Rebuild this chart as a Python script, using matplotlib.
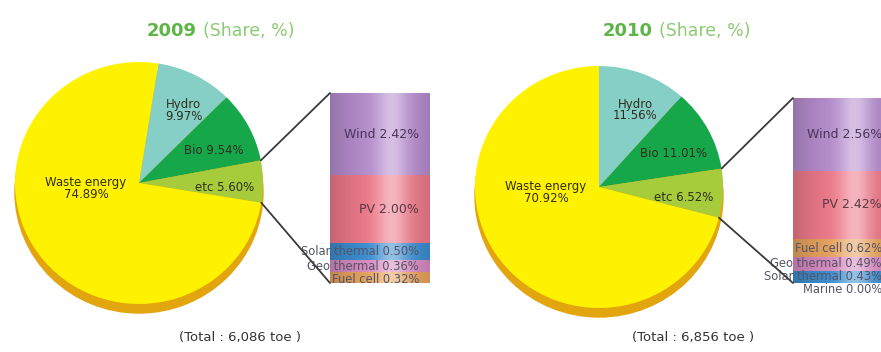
import numpy as np
import matplotlib.pyplot as plt
from matplotlib.patches import Ellipse, ConnectionPatch

W, H = 881, 352

YEARS = ["2009", "2010"]
TOTALS = ["6,086", "6,856"]

PIE_LABELS = ["Hydro", "Bio", "etc", "Waste energy"]
PIE_2009 = [9.97, 9.54, 5.60, 74.89]
PIE_2010 = [11.56, 11.01, 6.52, 70.92]

ETC_LABELS_2009 = ["Wind", "PV", "Solar thermal", "Geo thermal", "Fuel cell"]
ETC_2009 = [2.42, 2.00, 0.50, 0.36, 0.32]
ETC_LABELS_2010 = ["Wind", "PV", "Fuel cell", "Geo thermal", "Solar thermal", "Marine"]
ETC_2010 = [2.56, 2.42, 0.62, 0.49, 0.43, 0.00]

PIE_COLORS = {"Hydro": "#86CFC7", "Bio": "#16A74B", "etc": "#A6CC3C",
              "Waste energy": "#FFF200"}
ETC_COLORS = {"Wind": "#B68DCE", "PV": "#EE7A8B", "Solar thermal": "#3C8ED2",
              "Geo thermal": "#D98BC3", "Fuel cell": "#E8A35E", "Marine": "#7FB3D5"}
SHADOW = "#E2A50E"

# pixel layout of each panel
PANELS = [
    dict(values=PIE_2009, etc=ETC_2009, etc_labels=ETC_LABELS_2009,
         center=(139, 183), start=81, bar=(330, 93, 100, 190),
         title_x=147, foot_x=240),
    dict(values=PIE_2010, etc=ETC_2010, etc_labels=ETC_LABELS_2010,
         center=(599, 187), start=90, bar=(793, 98, 100, 185),
         title_x=603, foot_x=693),
]
RX, RY = 124, 121
SHADOW_DY = 9


def px_rect(x, y, w, h):
    return [x / W, 1 - (y + h) / H, w / W, h / H]


fig = plt.figure(figsize=(W / 100, H / 100), dpi=100)
canvas = fig.add_axes([0, 0, 1, 1])
canvas.set_xlim(0, W)
canvas.set_ylim(H, 0)
canvas.axis("off")

for i, p in enumerate(PANELS):
    cx, cy = p["center"]
    pad = 1.12
    pie_ax = fig.add_axes(px_rect(cx - RX * pad, cy - RY * pad,
                                  2 * RX * pad, 2 * RY * pad))
    pie_ax.add_patch(Ellipse((0, -SHADOW_DY / RY), 2, 2, color=SHADOW, zorder=0))
    wedges, _ = pie_ax.pie(p["values"], colors=[PIE_COLORS[k] for k in PIE_LABELS],
                           startangle=p["start"], counterclock=False,
                           wedgeprops=dict(linewidth=0))
    pie_ax.set_aspect("auto")
    pie_ax.set_xlim(-pad, pad)
    pie_ax.set_ylim(-pad, pad)
    pie_ax.axis("off")

    # slice labels
    label_pos = {"Hydro": 0.70, "Bio": 0.66, "etc": 0.69}
    for w, name, v in zip(wedges, PIE_LABELS, p["values"]):
        if name == "Waste energy":
            ang, r = np.deg2rad(186), 0.43
            txt = f"{name}\n{v:.2f}%"
        else:
            ang = np.deg2rad((w.theta1 + w.theta2) / 2 - 4)
            r = label_pos[name]
            txt = f"{name}\n{v:.2f}%" if name == "Hydro" else f"{name} {v:.2f}%"
        pie_ax.text(r * np.cos(ang), r * np.sin(ang), txt, ha="center", va="center",
                    fontsize=8.5, color="#2E2E1E", linespacing=0.85)

    # breakdown of "etc" as a stacked bar
    bx, by, bw, bh = p["bar"]
    bar_ax = fig.add_axes(px_rect(bx, by, bw, bh))
    total = sum(p["etc"])
    bottom = total
    label_y = []
    for name, v in zip(p["etc_labels"], p["etc"]):
        bottom -= v
        bar_ax.bar(0, v, width=1, bottom=bottom, color=ETC_COLORS[name], linewidth=0)
        label_y.append(bottom + v / 2)
    bar_ax.set_xlim(-0.5, 0.5)
    bar_ax.set_ylim(0, total)
    bar_ax.axis("off")

    # cylindrical shading across the bar
    xs = np.linspace(0, 1, 200)
    shade = np.zeros((1, 200, 4))
    hi = 0.45 * np.exp(-((xs - 0.62) / 0.16) ** 2)
    edge = 0.18 * (np.abs(xs - 0.55) / 0.55) ** 2
    shade[0, :, :3] = (hi / (hi + edge + 1e-9))[:, None]
    shade[0, :, 3] = hi + edge
    bar_ax.imshow(shade, extent=(-0.5, 0.5, 0, total), aspect="auto", zorder=3)

    gap = 13 * total / bh
    prev = None
    for name, v, y in zip(p["etc_labels"], p["etc"], label_y):
        if prev is not None and v < 1:
            y = min(y, prev - gap)
        prev = y
        big = v >= 1
        color = "#4A3558" if name == "Wind" else ("#5A3A40" if big else "#555566")
        bar_ax.text(0.39, y, f"{name} {v:.2f}%", ha="right", va="center",
                    fontsize=9 if big else 8.3, zorder=4, color=color)

    # connector lines from the "etc" slice to the bar
    etc_w = wedges[PIE_LABELS.index("etc")]
    for ang, yb in ((etc_w.theta2, total), (etc_w.theta1, 0)):
        a = np.deg2rad(ang)
        con = ConnectionPatch(xyA=(np.cos(a), np.sin(a)), coordsA=pie_ax.transData,
                              xyB=(-0.5, yb), coordsB=bar_ax.transData,
                              color="#3A3A3A", linewidth=1.3, zorder=5)
        fig.add_artist(con)

    # title and total
    t = canvas.text(p["title_x"], 36, YEARS[i], fontsize=13, fontweight="bold",
                    color="#5DB548", ha="left", va="baseline")
    canvas.annotate("(Share, %)", xy=(1, 0), xycoords=t, xytext=(4, 0),
                    textcoords="offset points", fontsize=12.5, color="#8CCB72",
                    ha="left", va="bottom")
    canvas.text(p["foot_x"], 337, f"(Total : {TOTALS[i]} toe )", fontsize=9.5,
                color="#333333", ha="center", va="center")

fig.savefig("out.png", dpi=100)
